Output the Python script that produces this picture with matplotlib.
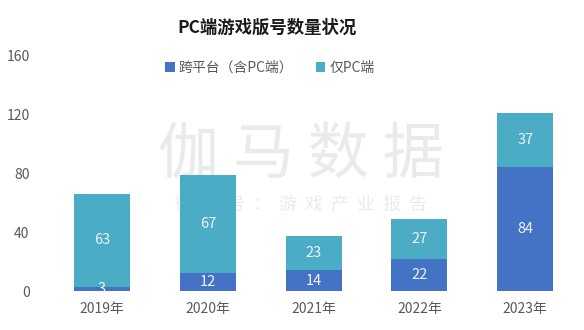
import matplotlib
matplotlib.use("Agg")
import matplotlib.pyplot as plt
import numpy as np

plt.rcParams['font.family'] = ['Noto Sans CJK SC', 'DejaVu Sans']

years = ['2019年', '2020年', '2021年', '2022年', '2023年']
cross_platform = [3, 12, 14, 22, 84]
pc_only = [63, 67, 23, 27, 37]
y_ticks = [0, 40, 80, 120, 160]

blue = '#4472C4'
teal = '#4BACC6'
label_color = '#F0F4F8'
tick_color = '#595959'
mark_color = '#EAEAEA'

fig = plt.figure(figsize=(5.84, 3.3), dpi=100)
ax = fig.add_axes([0.084, 0.118, 0.906, 0.715])

x = np.arange(len(years))
width = 0.53
b1 = ax.bar(x, cross_platform, width, color=blue, label='跨平台（含PC端）', zorder=2)
b2 = ax.bar(x, pc_only, width, bottom=cross_platform, color=teal, label='仅PC端', zorder=2)

for i in range(len(years)):
    ax.text(x[i], cross_platform[i] / 2, str(cross_platform[i]), ha='center', va='center',
            color=label_color, fontsize=10.5, zorder=3)
    ax.text(x[i], cross_platform[i] + pc_only[i] / 2, str(pc_only[i]), ha='center', va='center',
            color=label_color, fontsize=10.5, zorder=3)

ax.set_xlim(-0.5, len(years) - 0.5)
ax.set_ylim(0, 160)
ax.set_yticks(y_ticks)
ax.set_xticks(x)
ax.set_xticklabels(years)
ax.tick_params(axis='both', length=0, colors=tick_color, labelsize=10)
ax.tick_params(axis='y', pad=14)
ax.tick_params(axis='x', pad=8)
for s in ax.spines.values():
    s.set_visible(False)

# watermark, kept behind the bars
ax.text(0.515, 0.53, '伽 马 数 据', ha='center', va='center', fontsize=44,
        color=mark_color, zorder=1, transform=fig.transFigure)
ax.text(0.515, 0.378, '微  信  号  ：  游  戏  产  业  报  告', ha='center', va='center',
        fontsize=13, color=mark_color, zorder=1, transform=fig.transFigure)

fig.text(0.457, 0.915, 'PC端游戏版号数量状况', ha='center', va='center',
         fontsize=12.5, fontweight='bold', color='#1a1a1a')
fig.legend(handles=[b1, b2], loc='center', bbox_to_anchor=(0.462, 0.795), ncol=2,
           frameon=False, fontsize=10, handlelength=0.7, handleheight=0.7,
           handletextpad=0.3, columnspacing=1.6, labelcolor=tick_color)

fig.savefig('out.png', dpi=100)
